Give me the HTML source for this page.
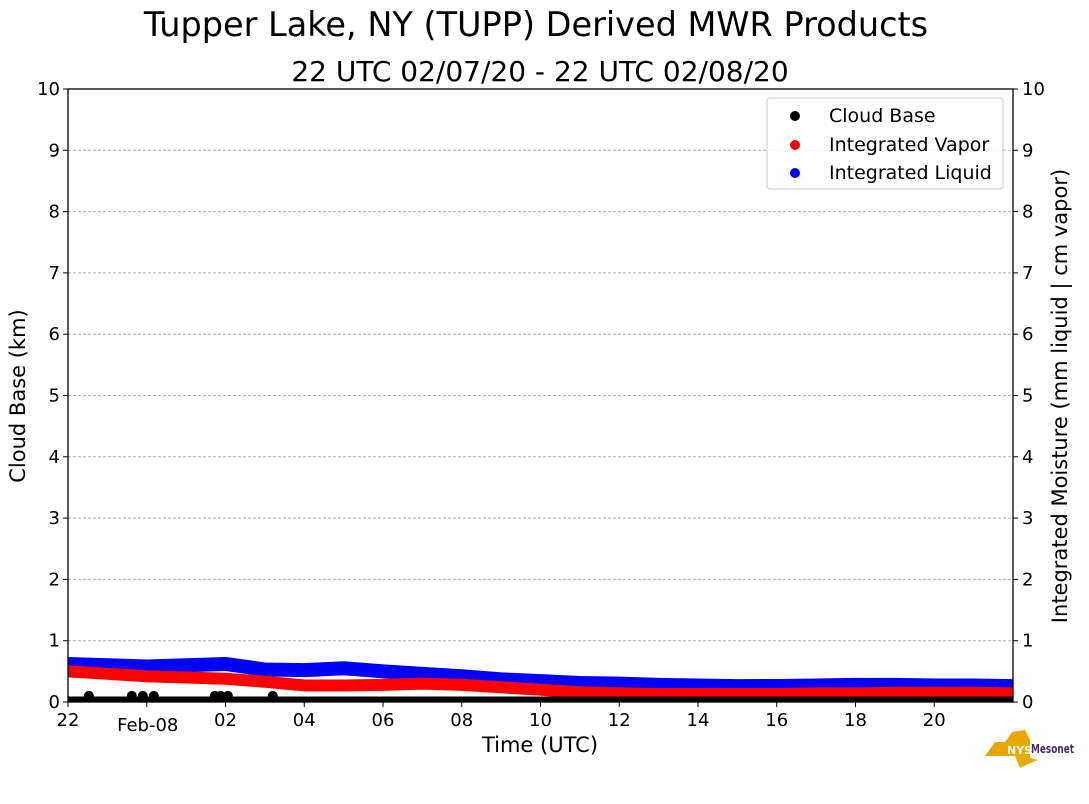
<!DOCTYPE html>
<html><head><meta charset="utf-8"><style>
body{margin:0;background:#fff;}
svg{display:block;font-family:"DejaVu Sans","Liberation Sans",sans-serif;}
</style></head><body>
<svg id="chart" width="1089" height="804" viewBox="0 0 1089 804" xmlns="http://www.w3.org/2000/svg">
<text x="536" y="36" font-size="33.5" text-anchor="middle">Tupper Lake, NY (TUPP) Derived MWR Products</text>
<text x="540" y="81" font-size="28" text-anchor="middle">22 UTC 02/07/20 - 22 UTC 02/08/20</text>
<g id="grid"></g>
<g id="series"></g>
<rect x="68" y="89" width="945" height="613" fill="none" stroke="#000" stroke-width="1.3"/>
<g id="axes"></g>
<text x="540" y="752" font-size="21" text-anchor="middle">Time (UTC)</text>
<text transform="translate(25,396) rotate(-90)" font-size="21" text-anchor="middle">Cloud Base (km)</text>
<text transform="translate(1067,396) rotate(-90)" font-size="21" text-anchor="middle">Integrated Moisture (mm liquid | cm vapor)</text>
<g>
<rect x="767" y="98" width="236" height="91" rx="3" fill="#fff" fill-opacity="0.85" stroke="#ccc"/>
<circle cx="795" cy="116" r="5" fill="#000"/><text x="829" y="122" font-size="19">Cloud Base</text>
<circle cx="795" cy="145" r="5" fill="#f00"/><text x="829" y="151" font-size="19">Integrated Vapor</text>
<circle cx="795" cy="173" r="5" fill="#00f"/><text x="829" y="179" font-size="19">Integrated Liquid</text>
</g>
<g>
<path d="M995 742 L1005 742 L1012 732 L1025 730 L1030 740 L1030 758 L1038 760 L1028 764 L1020 768 L1015 756 L985 756 Z" fill="#e8a800"/>
<text x="1007" y="754" font-size="11" font-weight="bold" fill="#fff">NYS</text>
<text x="1031" y="753" font-size="12" font-weight="bold" fill="#4b2c6b" textLength="43" lengthAdjust="spacingAndGlyphs">Mesonet</text>
</g>
</svg>
<script>
const hours = [0,1,2,3,4,5,6,7,8,9,10,11,12,13,14,15,16,17,18,19,20,21,22,23,24];
const vapor = [0.50,0.46,0.42,0.40,0.38,0.33,0.27,0.27,0.28,0.30,0.28,0.24,0.20,0.16,0.14,0.13,0.13,0.13,0.13,0.14,0.14,0.15,0.15,0.15,0.14];
const liquid = [0.62,0.60,0.58,0.60,0.62,0.53,0.52,0.55,0.50,0.46,0.42,0.37,0.34,0.31,0.30,0.28,0.27,0.26,0.26,0.27,0.28,0.28,0.27,0.27,0.26];
const cloudHours = [0.53,1.62,1.9,2.18,3.73,3.88,4.06,5.2];
const cloudVals = [0.1,0.1,0.1,0.1,0.1,0.1,0.1,0.1];
const xTickHours = [0,2,4,6,8,10,12,14,16,18,20,22];
const xTickLabels = ["22","Feb-08","02","04","06","08","10","12","14","16","18","20"];
const yTicks = [0,1,2,3,4,5,6,7,8,9,10];
const NS="http://www.w3.org/2000/svg";
const X0=68,X1=1013,Y0=702,Y1=89;
const xs=h=>X0+h*(X1-X0)/24;
const ys=v=>Y0-v*(Y0-Y1)/10;
function mk(t,a,p){const e=document.createElementNS(NS,t);for(const k in a)e.setAttribute(k,a[k]);p.appendChild(e);return e;}
const grid=document.getElementById('grid'),ax=document.getElementById('axes'),ser=document.getElementById('series');
yTicks.forEach(v=>{
  if(v>0&&v<10){const g=mk('line',{x1:X0,x2:X1,y1:ys(v),y2:ys(v),stroke:'#b0b0b0','stroke-dasharray':'3,2'},grid);
  
  }
  mk('line',{x1:X0-5,x2:X0,y1:ys(v),y2:ys(v),stroke:'#000'},ax);
  mk('line',{x1:X1,x2:X1+5,y1:ys(v),y2:ys(v),stroke:'#000'},ax);
  const l=mk('text',{x:X0-8,y:ys(v)+6,'font-size':18,'text-anchor':'end'},ax);l.textContent=v;
  
  
  const r=mk('text',{x:X1+9,y:ys(v)+6,'font-size':18},ax);r.textContent=v;
  
  
});
xTickHours.forEach((h,i)=>{
  mk('line',{x1:xs(h),x2:xs(h),y1:Y0,y2:Y0+5,stroke:'#000'},ax);
  const t=mk('text',{x:xs(h)+(i==1?1:0),y:Y0+24+(i==1?5:0),'font-size':18,'text-anchor':'middle'},ax);t.textContent=xTickLabels[i];
  
  
});
function band(vals,color,w,name){
  const p=mk('polyline',{points:hours.map((h,i)=>xs(h)+','+ys(vals[i])).join(' '),fill:'none',stroke:color,'stroke-width':w,'stroke-linejoin':'round'},ser);
  
  
}
band(liquid,'#0000ff',14,'integrated-liquid-series');
band(vapor,'#ff0000',12,'integrated-vapor-series');
const base=mk('line',{x1:X0,x2:X1,y1:ys(0)-2.5,y2:ys(0)-2.5,stroke:'#000','stroke-width':6},ser);


cloudHours.forEach((h,i)=>{
  const c=mk('circle',{cx:xs(h),cy:ys(cloudVals[i]),r:5,fill:'#000'},ser);
  
  
});
</script>
</body></html>
